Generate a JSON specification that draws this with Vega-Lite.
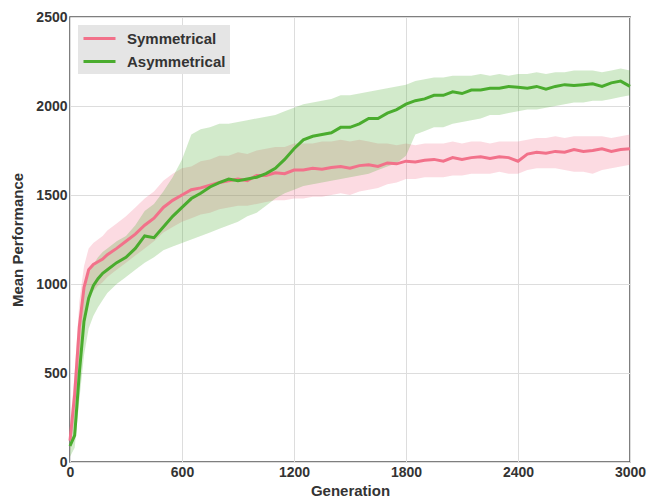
{
  "$schema": "https://vega.github.io/schema/vega-lite/v6.json",
  "width": 560,
  "height": 445,
  "autosize": {"type": "none"},
  "padding": {"left": 70, "top": 17, "right": 19, "bottom": 37},
  "config": {
    "font": "Liberation Sans",
    "view": {"stroke": "#555555", "strokeWidth": 1.5},
    "axis": {
      "labelFont": "Liberation Sans", "labelFontWeight": "bold", "labelFontSize": 14, "labelColor": "#333333",
      "titleFont": "Liberation Sans", "titleFontWeight": "bold", "titleFontSize": 15, "titleColor": "#333333",
      "gridColor": "#dddddd", "domain": false, "ticks": false
    }
  },
  "data": {"values": [
    {"gen":0,"series":"Symmetrical","mean":120,"lo":60,"hi":200},
    {"gen":25,"series":"Symmetrical","mean":380,"lo":250,"hi":500},
    {"gen":50,"series":"Symmetrical","mean":760,"lo":600,"hi":900},
    {"gen":75,"series":"Symmetrical","mean":980,"lo":820,"hi":1100},
    {"gen":100,"series":"Symmetrical","mean":1080,"lo":930,"hi":1200},
    {"gen":125,"series":"Symmetrical","mean":1110,"lo":960,"hi":1230},
    {"gen":150,"series":"Symmetrical","mean":1125,"lo":990,"hi":1250},
    {"gen":175,"series":"Symmetrical","mean":1140,"lo":1010,"hi":1270},
    {"gen":200,"series":"Symmetrical","mean":1165,"lo":1040,"hi":1300},
    {"gen":250,"series":"Symmetrical","mean":1200,"lo":1080,"hi":1340},
    {"gen":300,"series":"Symmetrical","mean":1240,"lo":1120,"hi":1380},
    {"gen":350,"series":"Symmetrical","mean":1280,"lo":1160,"hi":1430},
    {"gen":400,"series":"Symmetrical","mean":1330,"lo":1200,"hi":1480},
    {"gen":450,"series":"Symmetrical","mean":1370,"lo":1240,"hi":1520},
    {"gen":500,"series":"Symmetrical","mean":1430,"lo":1290,"hi":1580},
    {"gen":550,"series":"Symmetrical","mean":1470,"lo":1320,"hi":1620},
    {"gen":600,"series":"Symmetrical","mean":1500,"lo":1350,"hi":1650},
    {"gen":650,"series":"Symmetrical","mean":1530,"lo":1370,"hi":1660},
    {"gen":700,"series":"Symmetrical","mean":1540,"lo":1390,"hi":1690},
    {"gen":750,"series":"Symmetrical","mean":1555,"lo":1400,"hi":1700},
    {"gen":800,"series":"Symmetrical","mean":1570,"lo":1420,"hi":1720},
    {"gen":850,"series":"Symmetrical","mean":1580,"lo":1430,"hi":1720},
    {"gen":900,"series":"Symmetrical","mean":1590,"lo":1440,"hi":1740},
    {"gen":950,"series":"Symmetrical","mean":1580,"lo":1440,"hi":1730},
    {"gen":1000,"series":"Symmetrical","mean":1610,"lo":1450,"hi":1750},
    {"gen":1050,"series":"Symmetrical","mean":1610,"lo":1460,"hi":1760},
    {"gen":1100,"series":"Symmetrical","mean":1625,"lo":1470,"hi":1770},
    {"gen":1150,"series":"Symmetrical","mean":1620,"lo":1470,"hi":1770},
    {"gen":1200,"series":"Symmetrical","mean":1640,"lo":1480,"hi":1790},
    {"gen":1250,"series":"Symmetrical","mean":1640,"lo":1480,"hi":1790},
    {"gen":1300,"series":"Symmetrical","mean":1650,"lo":1490,"hi":1790},
    {"gen":1350,"series":"Symmetrical","mean":1645,"lo":1490,"hi":1800},
    {"gen":1400,"series":"Symmetrical","mean":1655,"lo":1500,"hi":1800},
    {"gen":1450,"series":"Symmetrical","mean":1660,"lo":1510,"hi":1810},
    {"gen":1500,"series":"Symmetrical","mean":1650,"lo":1500,"hi":1800},
    {"gen":1550,"series":"Symmetrical","mean":1665,"lo":1520,"hi":1810},
    {"gen":1600,"series":"Symmetrical","mean":1670,"lo":1530,"hi":1800},
    {"gen":1650,"series":"Symmetrical","mean":1660,"lo":1540,"hi":1790},
    {"gen":1700,"series":"Symmetrical","mean":1680,"lo":1560,"hi":1790},
    {"gen":1750,"series":"Symmetrical","mean":1675,"lo":1570,"hi":1780},
    {"gen":1800,"series":"Symmetrical","mean":1690,"lo":1590,"hi":1790},
    {"gen":1850,"series":"Symmetrical","mean":1685,"lo":1590,"hi":1780},
    {"gen":1900,"series":"Symmetrical","mean":1695,"lo":1600,"hi":1790},
    {"gen":1950,"series":"Symmetrical","mean":1700,"lo":1600,"hi":1790},
    {"gen":2000,"series":"Symmetrical","mean":1690,"lo":1600,"hi":1790},
    {"gen":2050,"series":"Symmetrical","mean":1710,"lo":1610,"hi":1800},
    {"gen":2100,"series":"Symmetrical","mean":1700,"lo":1610,"hi":1790},
    {"gen":2150,"series":"Symmetrical","mean":1710,"lo":1620,"hi":1800},
    {"gen":2200,"series":"Symmetrical","mean":1715,"lo":1620,"hi":1800},
    {"gen":2250,"series":"Symmetrical","mean":1705,"lo":1620,"hi":1790},
    {"gen":2300,"series":"Symmetrical","mean":1715,"lo":1630,"hi":1800},
    {"gen":2350,"series":"Symmetrical","mean":1710,"lo":1620,"hi":1800},
    {"gen":2400,"series":"Symmetrical","mean":1690,"lo":1620,"hi":1800},
    {"gen":2450,"series":"Symmetrical","mean":1730,"lo":1640,"hi":1810},
    {"gen":2500,"series":"Symmetrical","mean":1740,"lo":1650,"hi":1820},
    {"gen":2550,"series":"Symmetrical","mean":1735,"lo":1650,"hi":1820},
    {"gen":2600,"series":"Symmetrical","mean":1745,"lo":1650,"hi":1830},
    {"gen":2650,"series":"Symmetrical","mean":1740,"lo":1640,"hi":1820},
    {"gen":2700,"series":"Symmetrical","mean":1755,"lo":1630,"hi":1830},
    {"gen":2750,"series":"Symmetrical","mean":1745,"lo":1630,"hi":1830},
    {"gen":2800,"series":"Symmetrical","mean":1750,"lo":1620,"hi":1830},
    {"gen":2850,"series":"Symmetrical","mean":1760,"lo":1640,"hi":1830},
    {"gen":2900,"series":"Symmetrical","mean":1745,"lo":1650,"hi":1820},
    {"gen":2950,"series":"Symmetrical","mean":1755,"lo":1660,"hi":1830},
    {"gen":3000,"series":"Symmetrical","mean":1760,"lo":1670,"hi":1840},
    {"gen":0,"series":"Asymmetrical","mean":90,"lo":30,"hi":180},
    {"gen":25,"series":"Asymmetrical","mean":150,"lo":80,"hi":300},
    {"gen":50,"series":"Asymmetrical","mean":500,"lo":350,"hi":700},
    {"gen":75,"series":"Asymmetrical","mean":790,"lo":600,"hi":950},
    {"gen":100,"series":"Asymmetrical","mean":920,"lo":750,"hi":1060},
    {"gen":125,"series":"Asymmetrical","mean":990,"lo":820,"hi":1110},
    {"gen":150,"series":"Asymmetrical","mean":1030,"lo":870,"hi":1150},
    {"gen":175,"series":"Asymmetrical","mean":1060,"lo":910,"hi":1180},
    {"gen":200,"series":"Asymmetrical","mean":1080,"lo":950,"hi":1200},
    {"gen":250,"series":"Asymmetrical","mean":1120,"lo":1000,"hi":1240},
    {"gen":300,"series":"Asymmetrical","mean":1150,"lo":1040,"hi":1270},
    {"gen":350,"series":"Asymmetrical","mean":1200,"lo":1080,"hi":1330},
    {"gen":400,"series":"Asymmetrical","mean":1270,"lo":1120,"hi":1410},
    {"gen":450,"series":"Asymmetrical","mean":1260,"lo":1150,"hi":1450},
    {"gen":500,"series":"Asymmetrical","mean":1320,"lo":1190,"hi":1520},
    {"gen":550,"series":"Asymmetrical","mean":1380,"lo":1210,"hi":1600},
    {"gen":600,"series":"Asymmetrical","mean":1430,"lo":1230,"hi":1700},
    {"gen":650,"series":"Asymmetrical","mean":1480,"lo":1250,"hi":1840},
    {"gen":700,"series":"Asymmetrical","mean":1510,"lo":1270,"hi":1870},
    {"gen":750,"series":"Asymmetrical","mean":1545,"lo":1290,"hi":1880},
    {"gen":800,"series":"Asymmetrical","mean":1570,"lo":1310,"hi":1900},
    {"gen":850,"series":"Asymmetrical","mean":1590,"lo":1330,"hi":1900},
    {"gen":900,"series":"Asymmetrical","mean":1580,"lo":1350,"hi":1910},
    {"gen":950,"series":"Asymmetrical","mean":1590,"lo":1380,"hi":1920},
    {"gen":1000,"series":"Asymmetrical","mean":1600,"lo":1400,"hi":1930},
    {"gen":1050,"series":"Asymmetrical","mean":1620,"lo":1440,"hi":1940},
    {"gen":1100,"series":"Asymmetrical","mean":1650,"lo":1480,"hi":1950},
    {"gen":1150,"series":"Asymmetrical","mean":1700,"lo":1510,"hi":1970},
    {"gen":1200,"series":"Asymmetrical","mean":1760,"lo":1530,"hi":1990},
    {"gen":1250,"series":"Asymmetrical","mean":1810,"lo":1550,"hi":2010},
    {"gen":1300,"series":"Asymmetrical","mean":1830,"lo":1560,"hi":2020},
    {"gen":1350,"series":"Asymmetrical","mean":1840,"lo":1570,"hi":2030},
    {"gen":1400,"series":"Asymmetrical","mean":1850,"lo":1580,"hi":2040},
    {"gen":1450,"series":"Asymmetrical","mean":1880,"lo":1590,"hi":2060},
    {"gen":1500,"series":"Asymmetrical","mean":1880,"lo":1600,"hi":2060},
    {"gen":1550,"series":"Asymmetrical","mean":1900,"lo":1610,"hi":2070},
    {"gen":1600,"series":"Asymmetrical","mean":1930,"lo":1620,"hi":2080},
    {"gen":1650,"series":"Asymmetrical","mean":1930,"lo":1640,"hi":2090},
    {"gen":1700,"series":"Asymmetrical","mean":1960,"lo":1660,"hi":2100},
    {"gen":1750,"series":"Asymmetrical","mean":1980,"lo":1680,"hi":2110},
    {"gen":1800,"series":"Asymmetrical","mean":2010,"lo":1720,"hi":2120},
    {"gen":1850,"series":"Asymmetrical","mean":2030,"lo":1840,"hi":2140},
    {"gen":1900,"series":"Asymmetrical","mean":2040,"lo":1860,"hi":2150},
    {"gen":1950,"series":"Asymmetrical","mean":2060,"lo":1880,"hi":2160},
    {"gen":2000,"series":"Asymmetrical","mean":2060,"lo":1880,"hi":2160},
    {"gen":2050,"series":"Asymmetrical","mean":2080,"lo":1900,"hi":2170},
    {"gen":2100,"series":"Asymmetrical","mean":2070,"lo":1910,"hi":2170},
    {"gen":2150,"series":"Asymmetrical","mean":2090,"lo":1920,"hi":2170},
    {"gen":2200,"series":"Asymmetrical","mean":2090,"lo":1930,"hi":2180},
    {"gen":2250,"series":"Asymmetrical","mean":2100,"lo":1950,"hi":2170},
    {"gen":2300,"series":"Asymmetrical","mean":2100,"lo":1950,"hi":2180},
    {"gen":2350,"series":"Asymmetrical","mean":2110,"lo":1960,"hi":2170},
    {"gen":2400,"series":"Asymmetrical","mean":2105,"lo":1970,"hi":2180},
    {"gen":2450,"series":"Asymmetrical","mean":2100,"lo":1980,"hi":2180},
    {"gen":2500,"series":"Asymmetrical","mean":2110,"lo":1980,"hi":2190},
    {"gen":2550,"series":"Asymmetrical","mean":2095,"lo":1990,"hi":2180},
    {"gen":2600,"series":"Asymmetrical","mean":2110,"lo":2000,"hi":2190},
    {"gen":2650,"series":"Asymmetrical","mean":2120,"lo":2010,"hi":2190},
    {"gen":2700,"series":"Asymmetrical","mean":2115,"lo":2020,"hi":2200},
    {"gen":2750,"series":"Asymmetrical","mean":2120,"lo":2020,"hi":2200},
    {"gen":2800,"series":"Asymmetrical","mean":2125,"lo":2030,"hi":2200},
    {"gen":2850,"series":"Asymmetrical","mean":2110,"lo":2030,"hi":2190},
    {"gen":2900,"series":"Asymmetrical","mean":2130,"lo":2040,"hi":2200},
    {"gen":2950,"series":"Asymmetrical","mean":2140,"lo":2050,"hi":2210},
    {"gen":3000,"series":"Asymmetrical","mean":2110,"lo":2060,"hi":2200}
  ]},
  "encoding": {
    "x": {"field": "gen", "type": "quantitative", "title": "Generation",
          "scale": {"domain": [0, 3000], "nice": false},
          "axis": {"values": [0, 600, 1200, 1800, 2400, 3000], "format": "d", "labelPadding": 3, "titlePadding": 4, "labelFlush": false}},
    "color": {"field": "series", "type": "nominal",
              "scale": {"domain": ["Symmetrical", "Asymmetrical"], "range": ["#f2718a", "#4aac2e"]},
              "legend": {"title": null, "orient": "none", "legendX": 8, "legendY": 8,
                "fillColor": "#e5e5e5", "padding": 4, "symbolType": "M-1,0H3", "symbolSize": 256,
                "symbolStrokeWidth": 3, "symbolOpacity": 1, "labelFont": "Liberation Sans", "labelFontWeight": "bold",
                "labelFontSize": 15, "labelColor": "#333333", "labelOffset": 26, "rowPadding": 5}}
  },
  "layer": [
    {
      "mark": {"type": "area", "opacity": 0.25},
      "encoding": {
        "y": {"field": "lo", "type": "quantitative", "title": "Mean Performance",
              "scale": {"domain": [0, 2500], "nice": false},
              "axis": {"values": [0, 500, 1000, 1500, 2000, 2500], "format": "d", "labelPadding": 3, "titlePadding": 10, "labelFlush": false}},
        "y2": {"field": "hi"}
      }
    },
    {
      "mark": {"type": "line", "strokeWidth": 3},
      "encoding": {
        "y": {"field": "mean", "type": "quantitative"}
      }
    }
  ]
}
